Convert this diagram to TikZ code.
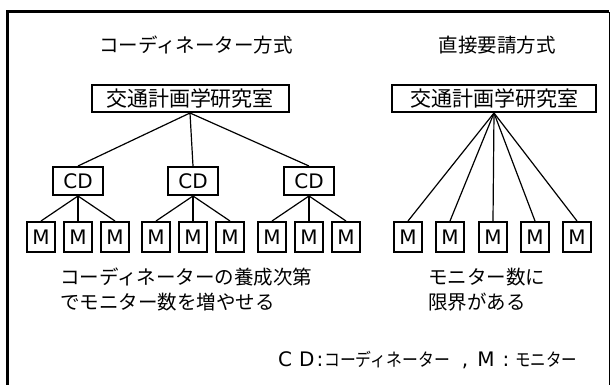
\documentclass[tikz,border=0pt]{standalone}
\usepackage{fontspec}
\usepackage{graphicx}
\setmainfont{Noto Sans CJK JP}
\newfontfamily\lat{DejaVu Sans}
\newcommand{\legkana}[2]{\scalebox{#1}[1]{\rmfamily\fontsize{18}{20}\selectfont #2}}
\begin{document}
\begin{tikzpicture}[x=1pt,y=-1pt,
  every node/.style={font=\fontsize{19.5}{25}\selectfont},
  box/.style={draw, line width=2pt, inner sep=0pt, fill=white,
    path picture={\fill (path picture bounding box.north west) rectangle ([xshift=2.5pt]path picture bounding box.south west);
                  \fill ([yshift=1.5pt]path picture bounding box.south west) rectangle (path picture bounding box.south east);}},
  cdbox/.style={box, minimum width=50pt, minimum height=28pt, font=\lat\fontsize{20}{24}\selectfont},
  mbox/.style={box, minimum width=28pt, minimum height=30pt, font=\lat\fontsize{20}{24}\selectfont},
  labbox/.style={box, minimum height=27pt, font=\fontsize{21}{24}\selectfont},
  conn/.style={line width=1.2pt},
  note/.style={align=left, anchor=west, inner sep=0pt}]
\useasboundingbox (0,0) rectangle (611,385);
% frame
\draw[line width=3pt] (7,390) -- (7,12) -- (609,12);
\draw[line width=1pt] (609,12) -- (609,390);
% titles
\node (t1) at (196,45) {コーディネーター方式};
\node (t2) at (497,45) {直接要請方式};
% left tree
\node[labbox, minimum width=197pt] (L) at (190,98.5) {交通計画学研究室};
\foreach \i/\x in {1/78,2/193,3/309}{
  \node[cdbox] (cd\i) at (\x,181) {CD};
  \draw[conn] (L.south) -- (cd\i.north);
  \foreach \j/\d in {1/-37,2/0,3/37}{
    \node[mbox] (m\i\j) at (\x+\d,237) {M};
    \draw[conn] (cd\i.south) -- (m\i\j.north);
  }
}
% right tree
\node[labbox, minimum width=204pt] (R) at (494,98.5) {交通計画学研究室};
\foreach \k/\x in {1/408,2/450,3/493,4/535,5/577}{
  \node[mbox] (r\k) at (\x,237) {M};
  \draw[conn] (R.south) -- (r\k.north);
}
% notes
\node[note] (n1) at (60,289.5) {コーディネーターの養成次第\\でモニター数を増やせる};
\node[note] (n2) at (428,289.5) {モニター数に\\限界がある};
\node[inner sep=0pt, anchor=west, font=\lat\fontsize{20}{22}\selectfont] (leg) at (278,360)
  {C\hspace{7pt}D\hspace{2pt}:\hspace{1pt}\legkana{0.88}{コーディネーター}\hspace{12pt},\hspace{9pt}M\hspace{8pt}:\hspace{6pt}\legkana{0.86}{モニター}};
\end{tikzpicture}
\end{document}
